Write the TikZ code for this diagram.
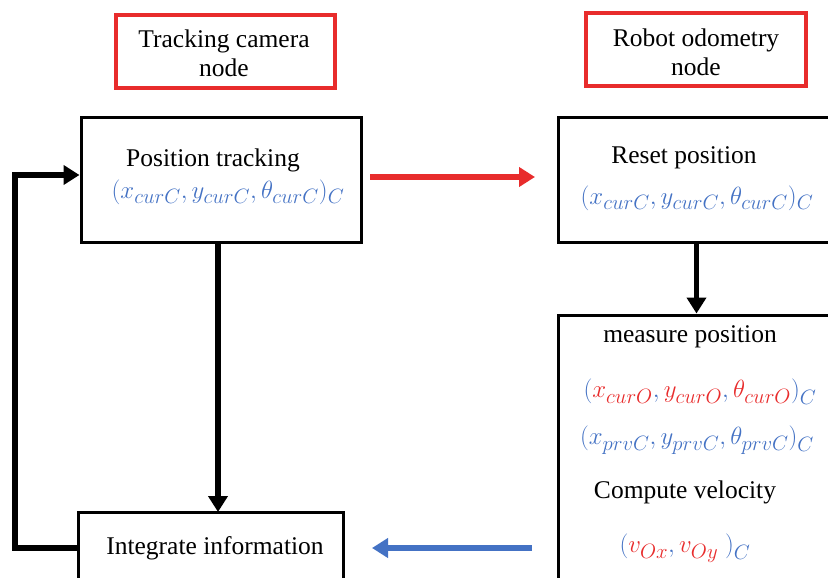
\documentclass[tikz,border=0pt]{standalone}
\usepackage{fontspec}
\setmainfont{Liberation Serif}
\usetikzlibrary{arrows.meta}
\DeclareMathSizes{28}{28}{21}{16}
\definecolor{cblue}{RGB}{68,114,196}
\definecolor{cred}{RGB}{232,44,44}
\begin{document}
\begin{tikzpicture}[x=1pt,y=-1pt,
  titlebox/.style={draw=cred,line width=3.2pt,inner sep=0pt},
  procbox/.style={draw=black,line width=3pt,inner sep=0pt},
  lbl/.style={font=\fontsize{25.5}{29}\selectfont,inner sep=0pt},
  mth/.style={font=\fontsize{28}{32}\selectfont,text=cblue,inner sep=0pt},
  flow/.style={line width=5.5pt,-{Triangle[length=16pt,width=19pt]}}]
\useasboundingbox (0,0) rectangle (828,578);
% title boxes
\node[titlebox,minimum width=219pt,minimum height=73pt] (cam) at (225.5,51.5) {};
\node[lbl,align=center] (camt) at (224,53) {Tracking camera\\node};
\node[titlebox,minimum width=220pt,minimum height=73pt] (odo) at (696,49.5) {};
\node[lbl,align=center] (odot) at (696,52) {Robot odometry\\node};
% process boxes
\node[procbox,minimum width=280pt,minimum height=125pt] (track) at (221,179.5) {};
\node[lbl] (trackt) at (213,160) {Position tracking};
\node[mth] (trackm) at (228,192) {$(x_{curC},y_{curC},\theta_{curC})_C$};
\node[procbox,minimum width=277pt,minimum height=125pt] (reset) at (696.5,179.5) {};
\node[lbl] (resett) at (684,158) {Reset position};
\node[mth] (resetm) at (697,198) {$(x_{curC},y_{curC},\theta_{curC})_C$};
\node[procbox,minimum width=277pt,minimum height=275pt] (meas) at (696.5,452.5) {};
\node[lbl] (meast) at (690,337) {measure position};
\node[mth] (measm1) at (700,392) {$\bigl(\textcolor{cred}{x_{curO}},\textcolor{cred}{y_{curO}},\textcolor{cred}{\theta_{curO}}\bigr)_C$};
\node[mth] (measm2) at (697,440) {$\bigl(x_{prvC},y_{prvC},\theta_{prvC}\bigr)_C$};
\node[lbl] (comp) at (685,492) {Compute velocity};
\node[mth] (vel) at (685,548) {$\bigl(\textcolor{cred}{v_{Ox}},\textcolor{cred}{v_{Oy}}\ \bigr)_C$};
\node[procbox,minimum width=265pt,minimum height=78pt] (integ) at (210.5,551) {};
\node[lbl] (integt) at (215,548) {Integrate information};
% connectors
\coordinate (redA) at (370,177);
\coordinate (redB) at (535,177);
\draw[flow,cred] (redA) -- (redB);
\draw[flow] (218,242) -- (218,512);
\draw[flow] (reset.south) -- (meas.north);
\coordinate (blueA) at (532,548);
\coordinate (blueB) at (372,548);
\draw[flow,cblue] (blueA) -- (blueB);
\coordinate (fbL) at (15,548);
\coordinate (fbT) at (15,175);
\draw[flow] (integ.west |- fbL) -- (fbL) -- (fbT) -- (track.west |- fbT);
\end{tikzpicture}
\end{document}
